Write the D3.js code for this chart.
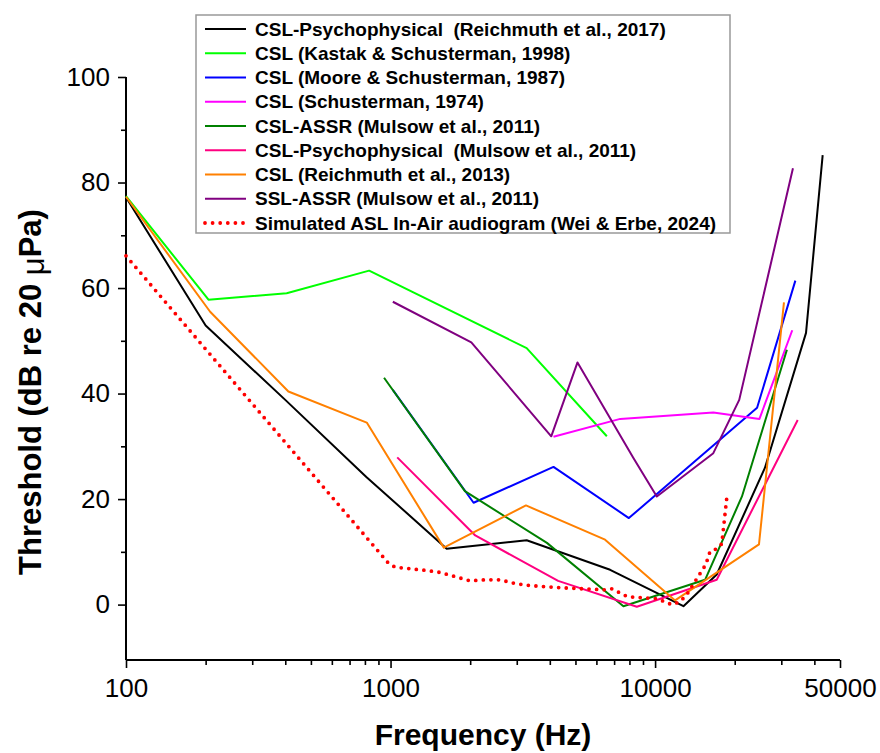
<!DOCTYPE html>
<html>
<head>
<meta charset="utf-8">
<script src="https://cdn.jsdelivr.net/npm/d3@7"></script>
<style>
  html, body { margin: 0; padding: 0; background: #fff; }
  svg { display: block; font-family: "Liberation Sans", Arial, Helvetica, sans-serif; }
</style>
</head>
<body>
<svg id="chart" width="880" height="753"></svg>
<script>
// ---- Audiogram data: frequency (Hz) and threshold (dB re 20 µPa) ----
const reich2017Freq = [100, 200, 400, 810, 1630, 3270, 6760, 12800, 17100, 26000, 37200, 43000];
const reich2017Db   = [77.2, 52.9, 38.8, 24.2, 10.6, 12.2, 6.6, -0.3, 5.7, 25.9, 51.5, 85.2];

const kastakFreq = [100, 205, 405, 830, 3270, 6570];
const kastakDb   = [77.4, 57.8, 59.0, 63.3, 48.6, 31.9];

const mooreFreq = [1020, 2060, 4130, 7960, 24300, 33900];
const mooreDb   = [40.7, 19.3, 26.1, 16.4, 37.3, 61.4];

const schust1974Freq = [4130, 7380, 16600, 24800, 33000];
const schust1974Db   = [31.8, 35.2, 36.4, 35.2, 52.0];

const cslAssrFreq = [945, 1910, 3900, 7590, 15450, 21300, 31500];
const cslAssrDb   = [43.0, 21.5, 11.7, -0.3, 4.7, 20.5, 48.3];

const mulsowPsyFreq = [1060, 2090, 4300, 8530, 17100, 34600];
const mulsowPsyDb   = [27.9, 13.1, 4.5, -0.4, 4.7, 35.0];

const reich2013Freq = [100, 208, 411, 813, 1590, 3250, 6470, 11900, 24700, 30700];
const reich2013Db   = [77.3, 55.5, 40.4, 34.5, 10.8, 18.8, 12.3, 0.8, 11.4, 57.3];

const sslAssrFreq = [1020, 2020, 4050, 5090, 8280, 10150, 16600, 20800, 33200];
const sslAssrDb   = [57.4, 49.7, 31.9, 45.9, 27.8, 20.5, 28.7, 38.8, 82.7];

const simFreq = [100, 980, 1040, 1350, 1540, 2000, 2280, 2590, 2960, 3370, 4380, 6430, 6860,
                 7860, 10200, 11560, 12360, 13100, 15550, 16140, 16960, 17870, 18760];
const simDb   = [66.1, 7.9, 7.1, 6.5, 6.1, 4.5, 4.7, 4.7, 4.0, 3.6, 3.2, 2.8, 3.0,
                 1.5, 1.1, 0.0, 0.5, 1.7, 7.6, 10.1, 10.5, 11.5, 21.3];

// ---- Axis ticks ----
const xMajorTicks = [100, 1000, 10000, 50000];
const xMinorTicks = [200, 300, 400, 500, 600, 700, 800, 900,
                     2000, 3000, 4000, 5000, 6000, 7000, 8000, 9000,
                     20000, 30000, 40000];
const yMajorTicks = [0, 20, 40, 60, 80, 100];
const yMinorTicks = [10, 30, 50, 70, 90];

// ---- Series table (legend order) ----
const seriesNames = [
  "CSL-Psychophysical  (Reichmuth et al., 2017)",
  "CSL (Kastak & Schusterman, 1998)",
  "CSL (Moore & Schusterman, 1987)",
  "CSL (Schusterman, 1974)",
  "CSL-ASSR (Mulsow et al., 2011)",
  "CSL-Psychophysical  (Mulsow et al., 2011)",
  "CSL (Reichmuth et al., 2013)",
  "SSL-ASSR (Mulsow et al., 2011)",
  "Simulated ASL In-Air audiogram (Wei & Erbe, 2024)"
];
const seriesFreqs = [reich2017Freq, kastakFreq, mooreFreq, schust1974Freq, cslAssrFreq,
                     mulsowPsyFreq, reich2013Freq, sslAssrFreq, simFreq];
const seriesDbs   = [reich2017Db, kastakDb, mooreDb, schust1974Db, cslAssrDb,
                     mulsowPsyDb, reich2013Db, sslAssrDb, simDb];
const seriesColors = ["#000000", "#00ff00", "#0000ff", "#ff00ff", "#008000",
                      "#ff0080", "#ff8000", "#800080", "#ff0000"];
const seriesDotted = [false, false, false, false, false, false, false, false, true];

const series = seriesNames.map((name, i) => ({
  name,
  color: seriesColors[i],
  dotted: seriesDotted[i],
  points: seriesFreqs[i].map((f, j) => ({ f, db: seriesDbs[i][j] }))
}));

// ---- Scales ----
const svg = d3.select("#chart");
const x = d3.scaleLog().domain([100, 50000]).range([126, 840]);
const y = d3.scaleLinear().domain([-10.5, 100]).range([660, 77]);

svg.append("rect").attr("width", 880).attr("height", 753).attr("fill", "#fff");

// ---- Axes ----
function styleAxis(g, fontSize) {
  g.attr("font-family", null).attr("font-size", null);
  g.selectAll(".tick line").attr("stroke", "#000").attr("stroke-width", 1.6);
  g.selectAll(".tick text").attr("fill", "#000").style("font-size", fontSize + "px");
}

const xAxisY = y(-10.5);
const yAxisX = x(100);

// minor x ticks
svg.append("g")
  .attr("transform", `translate(0,${xAxisY})`)
  .call(d3.axisBottom(x).tickValues(xMinorTicks).tickSize(5).tickFormat(""))
  .call(g => { g.select(".domain").remove(); styleAxis(g, 26); });

// major x ticks with labels
svg.append("g")
  .attr("transform", `translate(0,${xAxisY})`)
  .call(d3.axisBottom(x).tickValues(xMajorTicks).tickSize(8).tickPadding(11)
          .tickFormat(d3.format("d")))
  .call(g => {
    g.select(".domain").remove();
    styleAxis(g, 26);
  });

// minor y ticks
svg.append("g")
  .attr("transform", `translate(${yAxisX},0)`)
  .call(d3.axisLeft(y).tickValues(yMinorTicks).tickSize(5).tickFormat(""))
  .call(g => { g.select(".domain").remove(); styleAxis(g, 26); });

// major y ticks with labels
svg.append("g")
  .attr("transform", `translate(${yAxisX},0)`)
  .call(d3.axisLeft(y).tickValues(yMajorTicks).tickSize(8).tickPadding(8)
          .tickFormat(d3.format("d")))
  .call(g => {
    g.select(".domain").remove();
    styleAxis(g, 26);
  });

// axis lines
svg.append("line")
  .attr("x1", yAxisX).attr("x2", x(50000))
  .attr("y1", xAxisY).attr("y2", xAxisY)
  .attr("stroke", "#000").attr("stroke-width", 2);
svg.append("line")
  .attr("x1", yAxisX).attr("x2", yAxisX)
  .attr("y1", y(100)).attr("y2", xAxisY)
  .attr("stroke", "#000").attr("stroke-width", 2);

// ---- Curves ----
const line = d3.line().x(d => x(d.f)).y(d => y(d.db));

svg.append("g").selectAll("path")
  .data(series)
  .join("path")
  .attr("d", d => line(d.points))
  .attr("fill", "none")
  .attr("stroke", d => d.color)
  .attr("stroke-width", d => d.dotted ? 3.8 : 2)
  .attr("stroke-linejoin", "round")
  .attr("stroke-linecap", d => d.dotted ? "round" : "butt")
  .attr("stroke-dasharray", d => d.dotted ? "0 7.6" : null);

// ---- Axis titles ----
svg.append("text")
  .attr("x", 483).attr("y", 745)
  .attr("text-anchor", "middle")
  .attr("font-weight", "bold")
  .attr("font-size", 30)
  .attr("fill", "#000")
  .text("Frequency (Hz)");

const yTitle = svg.append("text")
  .attr("transform", "translate(41,392) rotate(-90)")
  .attr("text-anchor", "middle")
  .attr("font-weight", "bold")
  .attr("font-size", 31)
  .attr("fill", "#000");
yTitle.append("tspan").text("Threshold (dB re 20 ");
yTitle.append("tspan").attr("font-weight", "normal").attr("dy", 3).text("μ");
yTitle.append("tspan").attr("dy", -3).text("Pa)");

// ---- Legend ----
const legend = svg.append("g");
legend.append("rect")
  .attr("x", 196).attr("y", 15)
  .attr("width", 534).attr("height", 218)
  .attr("fill", "#fff")
  .attr("stroke", "#999")
  .attr("stroke-width", 1.5);

const rowY0 = 29, rowStep = 24.25;
const items = legend.selectAll("g.item")
  .data(series)
  .join("g")
  .attr("class", "item")
  .attr("transform", (d, i) => `translate(0,${rowY0 + i * rowStep})`);

items.append("line")
  .attr("x1", 205).attr("x2", 246)
  .attr("y1", 0).attr("y2", 0)
  .attr("stroke", d => d.color)
  .attr("stroke-width", d => d.dotted ? 3.8 : 2)
  .attr("stroke-linecap", d => d.dotted ? "round" : "butt")
  .attr("stroke-dasharray", d => d.dotted ? "0 7.6" : null);

items.append("text")
  .attr("x", 255).attr("y", 0)
  .attr("dy", "0.35em")
  .attr("font-weight", "bold")
  .attr("font-size", 19)
  .attr("fill", "#000")
  .style("white-space", "pre")
  .text(d => d.name);
</script>
</body>
</html>
